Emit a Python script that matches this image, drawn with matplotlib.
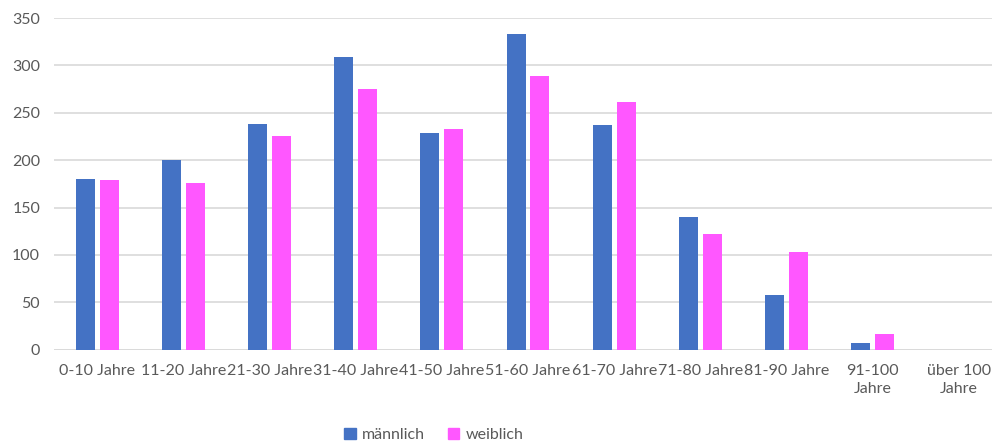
import numpy as np
from matplotlib import pyplot as plt
from matplotlib.patches import Patch

plt.rcParams['font.family'] = ['Lato', 'DejaVu Sans']

categories = ["0-10 Jahre", "11-20 Jahre", "21-30 Jahre", "31-40 Jahre", "41-50 Jahre",
              "51-60 Jahre", "61-70 Jahre", "71-80 Jahre", "81-90 Jahre",
              "91-100\nJahre", "über 100\nJahre"]
maennlich = [180, 200, 238, 309, 229, 333, 237, 140, 58, 7, 0]
weiblich = [179, 176, 225, 275, 233, 289, 261, 122, 103, 17, 0]

blue = "#4472C4"
pink = "#FF57FF"
grey = "#595959"

fig = plt.figure(figsize=(9.92, 4.43), dpi=100)
# plot area runs a little past the right edge of the picture
ax = fig.add_axes([54 / 992, 93.3 / 443, 948 / 992, 331.7 / 443])

x = np.arange(len(categories))
w = 0.22
gap = 0.029
ax.bar(x - w / 2 - gap, maennlich, width=w, color=blue, zorder=3)
ax.bar(x + w / 2 + gap, weiblich, width=w, color=pink, zorder=3)

ax.set_xlim(-0.5, len(categories) - 0.5)
ax.set_ylim(0, 350)
ax.set_yticks(range(0, 351, 50))
ax.grid(axis="y", color="#d9d9d9", linewidth=1.2, zorder=0)
for s in ax.spines.values():
    s.set_visible(False)
ax.axhline(0, color="#d9d9d9", linewidth=1.2, zorder=2)

ax.set_xticks(x)
ax.set_xticklabels(categories, linespacing=1.4)
ax.tick_params(axis="both", length=0, labelsize=11.5, labelcolor=grey)
ax.tick_params(axis="x", pad=10)
ax.tick_params(axis="y", pad=10)

handles = [Patch(color=blue, label="männlich"), Patch(color=pink, label="weiblich")]
fig.legend(handles=handles, loc="center", bbox_to_anchor=(434 / 992, 1 - 435 / 443),
           ncol=2, frameon=False, fontsize=11.5, labelcolor=grey,
           handlelength=0.7, handleheight=0.7, handletextpad=0.4, columnspacing=1.45)

fig.savefig("out.png", dpi=100)
